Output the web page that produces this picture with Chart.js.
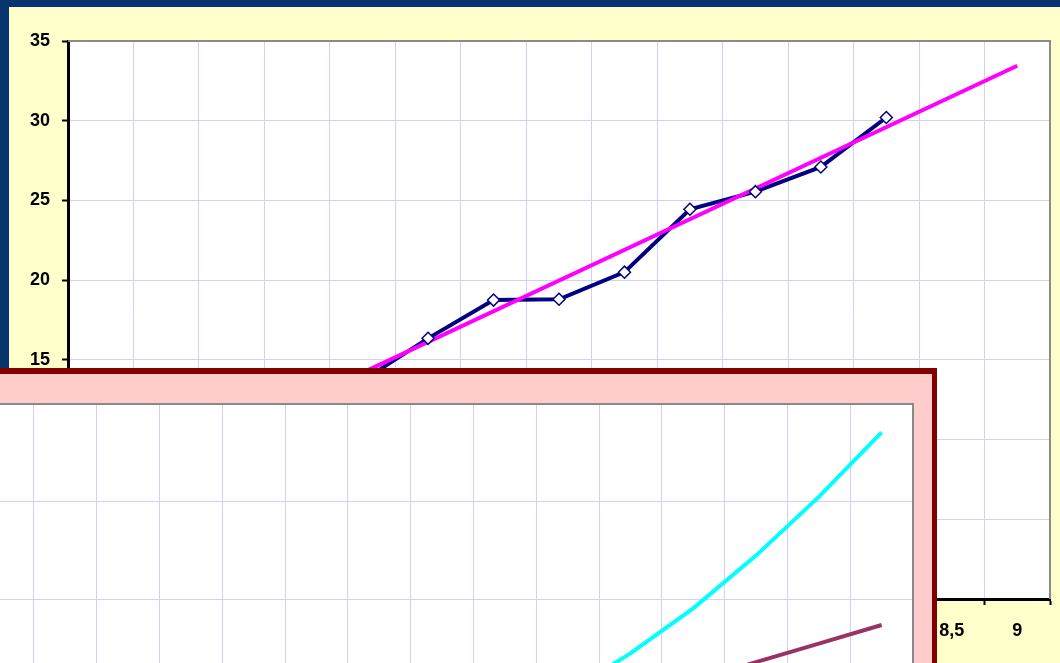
<!DOCTYPE html>
<html>
<head>
<meta charset="utf-8">
<script src="https://cdn.jsdelivr.net/npm/chart.js@4/dist/chart.umd.min.js"></script>
<style>
  html, body { margin: 0; padding: 0; }
  body { width: 1060px; height: 663px; overflow: hidden; position: relative; background: #07346f; }
  #mainBox { position: absolute; left: 9px; top: 7px; width: 1051px; height: 656px; background: #ffffcc; }
  #overBox { position: absolute; left: -60px; top: 368px; width: 992px; height: 548px;
             background: #ffcccc; border-top: 6px solid #800000; border-right: 5px solid #800000; }
  canvas { display: block; }
</style>
</head>
<body>
<div id="mainBox"><canvas id="mainChart" width="1051" height="656"></canvas></div>
<div id="overBox"><canvas id="overChart" width="992" height="548"></canvas></div>
<script>
// categories (x values)
const labels = ["2", "2,5", "3", "3,5", "4", "4,5", "5", "5,5", "6", "6,5", "7", "7,5", "8", "8,5", "9"];

// main chart: measured series + linear trend (forecast 2 periods)
const measured = [7.0, 8.6, 10.3, 12.0, 13.7, 16.35, 18.75, 18.8, 20.5, 24.45, 25.55, 27.1, 30.2, null, null];
const trend = [6.5, null, null, null, null, null, null, null, null, null, null, null, null, null, 33.45];

// overlay chart series
const cyanValues = [null, null, 0.5, 0.9, 1.5, 2.3, 3.5, 5.0, 7.0, 10.5, 14.5, 19.1, 24.5, 30.5, 37.1];
const maroonValues = [-9.2, -7.3, -5.4, -3.5, -1.6, 0.3, 2.2, 4.1, 6.0, 7.9, 9.8, 11.7, 13.6, 15.5, 17.4];

const gridColor = "#cfcffa";
const tickFont = { family: "Liberation Sans", size: 18, weight: "bold" };

// white plot area + grey frame on top/right
const plotFrame = {
  id: "plotFrame",
  beforeDraw(chart) {
    const a = chart.chartArea, ctx = chart.ctx;
    ctx.save();
    ctx.fillStyle = "#ffffff";
    ctx.fillRect(a.left, a.top, a.right - a.left, a.bottom - a.top);
    ctx.restore();
  },
  afterDatasetsDraw(chart) {
    const a = chart.chartArea, ctx = chart.ctx;
    ctx.save();
    ctx.strokeStyle = "#8a8a8a";
    ctx.lineWidth = 2;
    ctx.beginPath();
    ctx.moveTo(a.left, a.top);
    ctx.lineTo(a.right, a.top);
    ctx.lineTo(a.right, a.bottom);
    ctx.stroke();
    ctx.restore();
  }
};

new Chart(document.getElementById("mainChart"), {
  type: "line",
  data: {
    labels: labels,
    datasets: [
      { data: measured, showLine: false, order: 0,
        pointStyle: "rectRot", pointRadius: 6, pointBackgroundColor: "#ffffff",
        pointBorderColor: "#000080", pointBorderWidth: 1.5 },
      { data: trend, spanGaps: true, order: 1, borderColor: "#ff00ff", borderWidth: 4,
        pointRadius: 0, tension: 0 },
      { data: measured, order: 2, borderColor: "#000080", borderWidth: 4,
        pointRadius: 0, tension: 0 }
    ]
  },
  options: {
    responsive: false,
    animation: false,
    events: [],
    layout: { autoPadding: false, padding: { top: 34, right: 10, left: 0, bottom: 0 } },
    plugins: { legend: { display: false }, tooltip: { enabled: false } },
    scales: {
      x: {
        offset: true,
        grid: { offset: true, color: gridColor, lineWidth: 1, tickColor: "#000", tickWidth: 2, tickLength: 6 },
        border: { color: "#000", width: 3 },
        ticks: { color: "#000", font: tickFont, padding: 15, maxRotation: 0, autoSkip: false },
        afterFit(s) { s.height = 64; }
      },
      y: {
        min: 0, max: 35,
        grid: { color: gridColor, lineWidth: 1, tickColor: "#000", tickWidth: 2, tickLength: 6 },
        border: { color: "#000", width: 3 },
        ticks: { stepSize: 5, color: "#000", font: tickFont, padding: 12 },
        afterFit(s) { s.width = 59; }
      }
    }
  },
  plugins: [plotFrame]
});

new Chart(document.getElementById("overChart"), {
  type: "line",
  data: {
    labels: labels,
    datasets: [
      { data: cyanValues, borderColor: "#00ffff", borderWidth: 4, pointRadius: 0, tension: 0 },
      { data: maroonValues, borderColor: "#993366", borderWidth: 4, pointRadius: 0, tension: 0 }
    ]
  },
  options: {
    responsive: false,
    animation: false,
    events: [],
    layout: { autoPadding: false, padding: { top: 30, right: 19, left: 0, bottom: 0 } },
    plugins: { legend: { display: false }, tooltip: { enabled: false } },
    scales: {
      x: {
        offset: true,
        grid: { offset: true, color: gridColor, drawTicks: false },
        border: { display: false },
        ticks: { display: false },
        afterFit(s) { s.height = 29; }
      },
      y: {
        min: -10, max: 40,
        grid: { color: gridColor, drawTicks: false },
        border: { display: false },
        ticks: { display: false, stepSize: 10 },
        afterFit(s) { s.width = 31; }
      }
    }
  },
  plugins: [plotFrame]
});
</script>
</body>
</html>
